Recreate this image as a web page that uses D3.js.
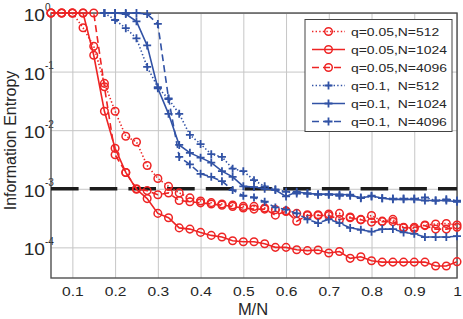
<!DOCTYPE html>
<html>
<head>
<meta charset="utf-8">
<script src="https://d3js.org/d3.v7.min.js"></script>
<style>
  body { margin: 0; background: #fff; }
  svg text { font-family: "Liberation Sans", Arial, sans-serif; fill: #262626; }
</style>
</head>
<body>
<svg id="chart" width="463" height="319"></svg>
<script>
// M/N sampling points
const ratio = [0.05, 0.075, 0.1, 0.125, 0.15, 0.175, 0.2, 0.225, 0.25, 0.275, 0.3, 0.325, 0.35, 0.375,
  0.4, 0.425, 0.45, 0.475, 0.5, 0.525, 0.55, 0.575, 0.6, 0.625, 0.65, 0.675, 0.7, 0.725, 0.75, 0.775,
  0.8, 0.825, 0.85, 0.875, 0.9, 0.925, 0.95, 0.975, 1];

// q = 0.05
const red512 = [1, 1, 1, 0.56, 0.27, 0.063, 0.021, 0.0079, 0.0063, 0.0025, 0.0015, 0.0011, 8.5e-4, 7.0e-4,
  6.2e-4, 5.8e-4, 5.5e-4, 5.3e-4, 5.0e-4, 5.0e-4, 4.7e-4, 4.4e-4, 4.2e-4, 3.8e-4, 3.6e-4, 3.6e-4, 3.7e-4,
  3.8e-4, 3.3e-4, 3.0e-4, 3.5e-4, 2.8e-4, 3.0e-4, 2.2e-4, 2.1e-4, 2.4e-4, 2.5e-4, 2.55e-4, 2.4e-4];
const red1024 = [1, 1, 1, 1, 0.19, 0.021, 0.0049, 0.0019, 9.8e-4, 6.8e-4, 3.8e-4, 3.2e-4, 2.15e-4, 2.05e-4,
  1.8e-4, 1.6e-4, 1.5e-4, 1.3e-4, 1.25e-4, 1.25e-4, 1.15e-4, 1.0e-4, 1.0e-4, 9.1e-5, 8.8e-5, 9.0e-5, 8.0e-5,
  8.5e-5, 6.5e-5, 6.9e-5, 5.9e-5, 5.6e-5, 5.6e-5, 5.6e-5, 5.6e-5, 5.6e-5, 4.8e-5, 4.8e-5, 5.7e-5];
const red4096 = [1, 1, 1, 1, 1, 0.055, 0.0038, 0.0019, 1.0e-3, 9.3e-4, 7.9e-4, 8.5e-4, 6.3e-4, 6.0e-4,
  5.75e-4, 5.5e-4, 5.25e-4, 5.0e-4, 4.7e-4, 4.5e-4, 4.5e-4, 3.55e-4, 4.1e-4, 2.8e-4, 3.5e-4, 3.5e-4, 3.5e-4,
  3.0e-4, 3.2e-4, 2.95e-4, 2.7e-4, 2.75e-4, 2.75e-4, 2.15e-4, 2.2e-4, 2.35e-4, 2.05e-4, 2.05e-4, 2.2e-4];

// q = 0.1
const blue512 = [null, null, null, null, null, 1, 0.76, 0.55, 0.37, 0.12, 0.054, 0.034, 0.019, 0.0083,
  0.0058, 0.0039, 0.0035, 0.0022, 0.002, 0.0014, 0.0011, 9.8e-4, 8.9e-4, 8.3e-4, 8.3e-4, 7.9e-4, 7.9e-4,
  7.6e-4, 7.6e-4, 7.1e-4, 7.4e-4, 6.9e-4, 6.8e-4, 6.8e-4, 6.8e-4, 7.1e-4, 6.3e-4, 6.6e-4, 6.3e-4];
const blue1024 = [null, null, null, null, null, 1, 1, 0.96, 0.72, 0.28, 0.052, 0.019, 0.0056, 0.0041,
  0.0034, 0.0028, 0.002, 0.0016, 0.0011, 0.00107, 0.001, 9.5e-4, 7.4e-4, 8.9e-4, 8.3e-4, 8.1e-4, 8.1e-4,
  8.0e-4, 7.9e-4, 6.9e-4, 7.6e-4, 6.9e-4, 6.6e-4, 6.6e-4, 6.6e-4, 6.3e-4, 6.3e-4, 6.3e-4, 6.0e-4];
const blue4096 = [null, null, null, null, null, 1, 1, 1, 1, 0.96, 0.65, 0.035, 0.0035, 0.0026,
  0.0018, 0.0016, 0.00135, 9.5e-4, 7.6e-4, 7.1e-4, 6.0e-4, 4.8e-4, 4.4e-4, 3.8e-4, 3.0e-4, 2.6e-4, 3.0e-4,
  2.6e-4, 2.15e-4, 2.0e-4, 1.85e-4, 2.05e-4, 2.05e-4, 1.8e-4, 1.7e-4, 1.5e-4, 1.5e-4, 1.5e-4, 1.55e-4];

const threshold = 1e-3;

const xTicks = [0.1, 0.2, 0.3, 0.4, 0.5, 0.6, 0.7, 0.8, 0.9, 1];
const xTickLabels = ['0.1', '0.2', '0.3', '0.4', '0.5', '0.6', '0.7', '0.8', '0.9', '1'];
const yTicks = [1, 1e-1, 1e-2, 1e-3, 1e-4];
const yTickExponents = ['0', '-1', '-2', '-3', '-4'];

const legendLabels = ['q=0.05,N=512', 'q=0.05,N=1024', 'q=0.05,N=4096',
  'q=0.1,  N=512', 'q=0.1,  N=1024', 'q=0.1,  N=4096'];

const red = '#ee2424';
const blue = '#3152a5';
const dotted = '1.4,2.2';
const dashed = '7,4';

const series = [
  { values: red512, color: red, dash: dotted, marker: 'circle' },
  { values: red1024, color: red, dash: null, marker: 'circle' },
  { values: red4096, color: red, dash: dashed, marker: 'circle' },
  { values: blue512, color: blue, dash: dotted, marker: 'plus' },
  { values: blue1024, color: blue, dash: null, marker: 'plus' },
  { values: blue4096, color: blue, dash: dashed, marker: 'plus' }
];

const margin = { top: 13, right: 6, bottom: 41, left: 51 };
const width = 463 - margin.left - margin.right;
const height = 319 - margin.top - margin.bottom;

const svg = d3.select('#chart');
const g = svg.append('g').attr('transform', `translate(${margin.left},${margin.top})`);

const x = d3.scaleLinear().domain([0.05, 1]).range([0, width]);
const y = d3.scaleLog().domain([3e-5, 1]).range([height, 0]);

// grid
const xGrid = g.append('g').attr('transform', `translate(0,${height})`)
  .call(d3.axisBottom(x).tickValues(xTicks).tickSize(-height).tickFormat(''));
const yGrid = g.append('g')
  .call(d3.axisLeft(y).tickValues(yTicks).tickSize(-width).tickFormat(''));
[xGrid, yGrid].forEach(sel => {
  sel.select('.domain').remove();
  sel.selectAll('line').attr('stroke', '#c6c6c6').attr('stroke-width', 1);
});

// tick labels
const xAxis = g.append('g').attr('transform', `translate(0,${height})`)
  .call(d3.axisBottom(x).tickValues(xTicks).tickSize(0).tickPadding(9)
    .tickFormat((d, i) => xTickLabels[i]));
xAxis.select('.domain').remove();
xAxis.selectAll('text').attr('font-size', 13).attr('fill', '#262626')
  .attr('font-family', '"Liberation Sans", Arial, sans-serif')
  .attr('transform', 'scale(1.2,1)');

const yAxis = g.append('g')
  .call(d3.axisLeft(y).tickValues(yTicks).tickSize(0).tickFormat(''));
yAxis.select('.domain').remove();
yAxis.selectAll('.tick').each(function (d, i) {
  const t = d3.select(this);
  t.append('text')
    .attr('transform', 'translate(-6,7.5) scale(1.2,1)')
    .attr('text-anchor', 'end')
    .attr('font-size', 16)
    .text('10');
  t.append('text')
    .attr('x', -6).attr('y', -3)
    .attr('text-anchor', 'start')
    .attr('font-size', 10)
    .text(yTickExponents[i]);
});

// frame
g.append('rect')
  .attr('width', width).attr('height', height)
  .attr('fill', 'none').attr('stroke', '#505050').attr('stroke-width', 1.4);

// threshold
g.append('line')
  .attr('x1', x(0.05)).attr('x2', x(1))
  .attr('y1', y(threshold)).attr('y2', y(threshold))
  .attr('stroke', '#1c1c1c').attr('stroke-width', 3.4)
  .attr('stroke-dasharray', '27.6,11.1');

// series
const line = d3.line()
  .defined(d => d[1] != null)
  .x(d => x(d[0]))
  .y(d => y(d[1]));

function drawMarker(sel, kind, color) {
  if (kind === 'circle') {
    sel.append('circle').attr('r', 3.8)
      .attr('fill', 'none').attr('stroke', color).attr('stroke-width', 1.5);
  } else {
    sel.append('path').attr('d', 'M-4,0H4M0,-4V4')
      .attr('stroke', color).attr('stroke-width', 1.8);
  }
}

series.forEach(s => {
  const pts = ratio.map((r, i) => [r, s.values[i]]);
  g.append('path')
    .datum(pts)
    .attr('d', line)
    .attr('fill', 'none')
    .attr('stroke', s.color)
    .attr('stroke-width', 1.6)
    .attr('stroke-dasharray', s.dash);
  g.append('g').selectAll('g')
    .data(pts.filter(d => d[1] != null))
    .enter().append('g')
    .attr('transform', d => `translate(${x(d[0])},${y(d[1])})`)
    .each(function () { drawMarker(d3.select(this), s.marker, s.color); });
});

// axis titles
svg.append('text')
  .attr('transform', 'rotate(-90)')
  .attr('x', -140.5).attr('y', 15.5)
  .attr('text-anchor', 'middle')
  .attr('font-size', 16)
  .text('Information Entropy');

svg.append('text')
  .attr('x', 253).attr('y', 315)
  .attr('text-anchor', 'middle')
  .attr('font-size', 16.5)
  .text('M/N');

// legend
const legend = svg.append('g').attr('transform', 'translate(305,19.5)');
legend.append('rect')
  .attr('width', 147).attr('height', 112)
  .attr('fill', '#fff').attr('stroke', '#444').attr('stroke-width', 1);

series.forEach((s, i) => {
  const row = legend.append('g').attr('transform', `translate(0,${12 + i * 18})`);
  row.append('line')
    .attr('x1', 7).attr('x2', 40)
    .attr('stroke', s.color).attr('stroke-width', 1.6)
    .attr('stroke-dasharray', s.dash);
  drawMarker(row.append('g').attr('transform', 'translate(23.5,0)'), s.marker, s.color);
  row.append('text')
    .attr('transform', 'translate(46,4.3) scale(1.2,1)')
    .attr('font-size', 11.6)
    .style('white-space', 'pre')
    .text(legendLabels[i]);
});
</script>
</body>
</html>
